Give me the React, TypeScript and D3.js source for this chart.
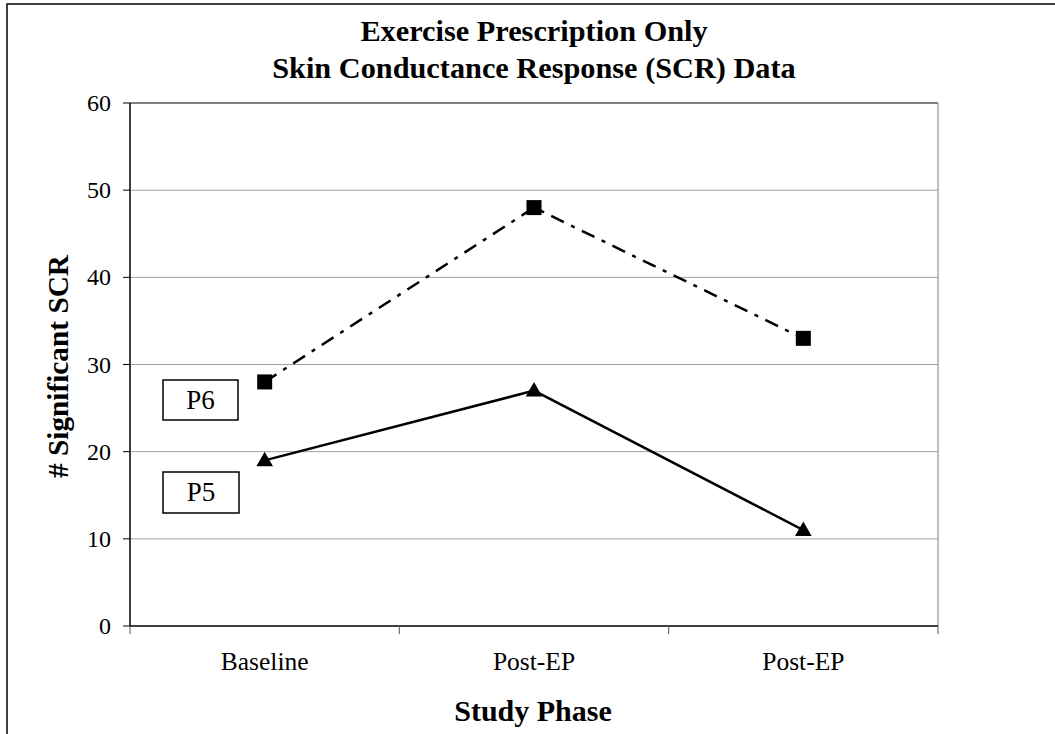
import React from "react";
import * as d3 from "d3";

const categories = ["Baseline", "Post-EP", "Post-EP "];
const p6Values = [28, 48, 33];
const p5Values = [19, 27, 11];
const yTicks = [0, 10, 20, 30, 40, 50, 60];
const titleLines = ["Exercise Prescription Only", "Skin Conductance Response (SCR) Data"];

export default function App() {
  const W = 1055, H = 734;
  const left = 130, right = 938, top = 103, bottom = 626;
  const x = d3.scaleBand().domain(categories).range([left, right]).padding(0);
  const y = d3.scaleLinear().domain([0, 60]).range([bottom, top]);
  const cx = (i: number) => (x(categories[i]) as number) + x.bandwidth() / 2;
  const line = d3.line<number>().x((_, i) => cx(i)).y((d) => y(d));
  const font = "'Liberation Serif', 'Times New Roman', serif";
  const tri = d3.symbol().type(d3.symbolTriangle).size(120)();
  const bandEdges = [...categories.map((c) => x(c) as number), right];

  return (
    <svg width={W} height={H} style={{ position: "absolute", left: 0, top: 0 }} fontFamily={font}>
      <rect x={0} y={0} width={W} height={H} fill="#fff" />
      <rect x={7} y={4} width={W + 10} height={H + 10} fill="none" stroke="#000" strokeWidth={1.5} />
      {titleLines.map((t, i) => (
        <text key={i} x={534} y={41 + i * 37} textAnchor="middle" fontSize={30.3} fontWeight="bold">{t}</text>
      ))}
      {yTicks.filter((t) => t > 0 && t < 60).map((t) => (
        <line key={t} x1={left} x2={right} y1={y(t)} y2={y(t)} stroke="#a0a0a0" strokeWidth={1} />
      ))}
      <line x1={left} x2={right} y1={top} y2={top} stroke="#000" strokeWidth={1} />
      <line x1={right} x2={right} y1={top} y2={bottom} stroke="#808080" strokeWidth={1} />
      <line x1={left} x2={left} y1={top} y2={bottom} stroke="#000" strokeWidth={1.5} />
      <line x1={left} x2={right} y1={bottom} y2={bottom} stroke="#000" strokeWidth={1.5} />
      {yTicks.map((t) => (
        <g key={t}>
          <line x1={left - 7} x2={left} y1={y(t)} y2={y(t)} stroke="#000" strokeWidth={1} />
          <text x={111} y={y(t) + 8} textAnchor="end" fontSize={24}>{t}</text>
        </g>
      ))}
      {bandEdges.map((e, i) => (
        <line key={i} x1={e} x2={e} y1={bottom} y2={bottom + 8} stroke="#555" strokeWidth={1} />
      ))}
      {categories.map((c, i) => (
        <text key={i} x={cx(i)} y={670} textAnchor="middle" fontSize={25.5}>{c.trim()}</text>
      ))}
      <text x={533} y={721} textAnchor="middle" fontSize={30} fontWeight="bold">Study Phase</text>
      <text transform={`translate(68,${(top + bottom) / 2 + 2}) rotate(-90)`} textAnchor="middle" fontSize={29.3} fontWeight="bold"># Significant SCR</text>

      <path d={line(p6Values) as string} fill="none" stroke="#000" strokeWidth={2.5} strokeDasharray="14 8 4 8" />
      <path d={line(p5Values) as string} fill="none" stroke="#000" strokeWidth={2.5} />
      {p6Values.map((v, i) => (
        <rect key={i} x={cx(i) - 7.5} y={y(v) - 7.5} width={15} height={15} fill="#000" />
      ))}
      {p5Values.map((v, i) => (
        <path key={i} d={tri as string} transform={`translate(${cx(i)},${y(v) + 1})`} fill="#000" />
      ))}

      <rect x={163} y={380} width={75} height={40} fill="#fff" stroke="#000" strokeWidth={1.5} />
      <text x={200.5} y={409} textAnchor="middle" fontSize={27}>P6</text>
      <rect x={163} y={472} width={76} height={41} fill="#fff" stroke="#000" strokeWidth={1.5} />
      <text x={201} y={501} textAnchor="middle" fontSize={27}>P5</text>
    </svg>
  );
}
